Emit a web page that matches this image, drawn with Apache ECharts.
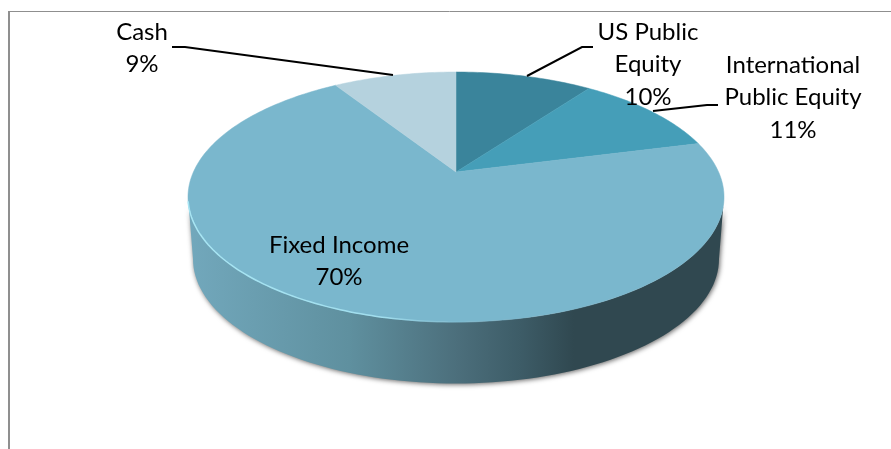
<!DOCTYPE html>
<html>
<head>
<meta charset="utf-8">
<title>Asset allocation</title>
<style>
    html, body { margin: 0; padding: 0; background: #fff; }
    #container { width: 891px; height: 449px; }
</style>
</head>
<body>
<div id="container"></div>
<script src="https://cdn.jsdelivr.net/npm/echarts@6/dist/echarts.min.js"></script>
<script type="text/javascript">
    // slices clockwise from 12 o'clock
    var categories = ['US Public\nEquity', 'International\nPublic Equity', 'Fixed Income', 'Cash'];
    var values = [10, 11, 70, 9];
    var colors = ['#3a849b', '#459eb8', '#7ab7cd', '#b5d2de'];

    // label centres and leader lines, same order as categories
    var labelPos = [[648, 32], [793, 65], [339, 245], [142, 32]];
    var leaders = [
        [[593, 47], [582, 47], [527, 76]],
        [[718, 105], [707, 105], [653, 111]],
        null,
        [[172, 47], [185, 47], [393, 75]]
    ];

    var total = values.reduce(function (a, b) { return a + b; }, 0);

    // perspective of the disc: apex of the slices sits above the ellipse centre
    var apex = [456, 172];
    var scaleX = 262.6, scaleY = 120, depth = 0.2;

    function project(angle) {
        var u = Math.sin(angle), v = Math.cos(angle);
        var w = 1 + depth * v;
        return [apex[0] + scaleX * u / w, apex[1] - scaleY * v / w];
    }

    function ellipseArc(cx, cy, rx, ry, from, to) {
        var pts = [];
        var n = 90;
        for (var i = 0; i <= n; i++) {
            var a = (from + (to - from) * i / n) * Math.PI / 180;
            pts.push([cx + rx * Math.cos(a), cy + ry * Math.sin(a)]);
        }
        return pts;
    }

    function renderSlice(params, api) {
        var i = params.dataIndex;
        var before = 0;
        for (var k = 0; k < i; k++) {
            before += values[k];
        }
        var start = before / total * Math.PI * 2;
        var end = (before + api.value(0)) / total * Math.PI * 2;
        var steps = Math.max(4, Math.ceil((end - start) / 0.02));
        var pts = [apex];
        for (var s = 0; s <= steps; s++) {
            pts.push(project(start + (end - start) * s / steps));
        }
        return {
            type: 'polygon',
            shape: {points: pts},
            style: {fill: colors[i], stroke: colors[i], lineWidth: 0.5}
        };
    }

    function renderWall() {
        var top = ellipseArc(456, 197, 268, 125, 180, 0);
        var bottom = ellipseArc(456, 259, 263, 124.5, 0, 180);
        return {
            type: 'polygon',
            shape: {points: top.concat(bottom)},
            style: {
                fill: new echarts.graphic.LinearGradient(0, 0, 1, 0, [
                    {offset: 0, color: '#72a8bc'},
                    {offset: 0.3, color: '#5f909f'},
                    {offset: 0.5, color: '#4c6f7c'},
                    {offset: 0.62, color: '#3d5c67'},
                    {offset: 0.72, color: '#304850'},
                    {offset: 1, color: '#304850'}
                ]),
                shadowColor: 'rgba(0,0,0,0.6)',
                shadowBlur: 5,
                shadowOffsetX: 1,
                shadowOffsetY: 1
            }
        };
    }

    function renderRim() {
        return {
            type: 'polyline',
            shape: {points: ellipseArc(456, 197, 268, 125, 178, 70)},
            style: {
                fill: null,
                lineWidth: 1.5,
                stroke: new echarts.graphic.LinearGradient(0, 0, 1, 0, [
                    {offset: 0, color: '#a8e6f4'},
                    {offset: 0.55, color: '#a0dded'},
                    {offset: 0.85, color: 'rgba(122,183,205,0)'},
                    {offset: 1, color: 'rgba(122,183,205,0)'}
                ])
            }
        };
    }

    function renderLabel(params, api) {
        var i = params.dataIndex;
        var lines = categories[i] + '\n' + api.value(0) + '%';
        var children = [{
            type: 'text',
            x: labelPos[i][0],
            y: labelPos[i][1] - 16,
            style: {
                text: lines,
                font: '24px Lato',
                lineHeight: 32.5,
                fill: '#000',
                align: 'center',
                verticalAlign: 'top'
            }
        }];
        if (leaders[i]) {
            children.push({
                type: 'polyline',
                shape: {points: leaders[i]},
                style: {fill: null, stroke: '#000', lineWidth: 2}
            });
        }
        return {type: 'group', children: children};
    }

    var myChart = echarts.init(document.getElementById('container'));
    var option = {
        animation: false,
        backgroundColor: '#fff',
        graphic: [
            {type: 'line', shape: {x1: 8, y1: 11.5, x2: 891, y2: 11.5}, style: {stroke: '#8f8f8f', lineWidth: 1}},
            {type: 'line', shape: {x1: 9, y1: 11, x2: 9, y2: 449}, style: {stroke: '#8f8f8f', lineWidth: 2}}
        ],
        series: [
            {type: 'custom', coordinateSystem: 'none', silent: true, z: 2, data: [1], renderItem: renderWall},
            {type: 'custom', coordinateSystem: 'none', silent: true, z: 3, data: values, renderItem: renderSlice},
            {type: 'custom', coordinateSystem: 'none', silent: true, z: 4, data: [1], renderItem: renderRim},
            {type: 'custom', coordinateSystem: 'none', silent: true, z: 5, data: values, renderItem: renderLabel}
        ]
    };
    myChart.setOption(option);
</script>
</body>
</html>
